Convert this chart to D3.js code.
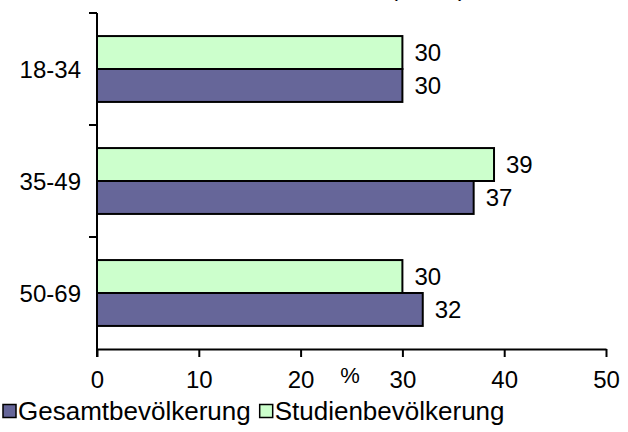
<!DOCTYPE html>
<html>
<head>
<meta charset="utf-8">
<script src="https://cdn.jsdelivr.net/npm/d3@7"></script>
<style>
  html, body { margin: 0; padding: 0; background: #fff; }
  svg { display: block; font-family: "Liberation Sans", Arial, sans-serif; }
</style>
</head>
<body>
<svg id="chart" width="628" height="432"></svg>
<script>
// Age groups and shares (%)
const categories = ["18-34", "35-49", "50-69"];
const seriesNames = ["Studienbevölkerung", "Gesamtbevölkerung"];
const studien = [30, 39, 30];
const gesamt = [30, 37, 32];
const xTicks = [0, 10, 20, 30, 40, 50];
const seriesColors = ["#CCFFCC", "#666699"];
const legendOrder = ["Gesamtbevölkerung", "Studienbevölkerung"];

const values = { "Studienbevölkerung": studien, "Gesamtbevölkerung": gesamt };

const svg = d3.select("#chart");
const fontSize = 24;
const legendFontSize = 26;

const plotLeft = 97, plotRight = 606, plotTop = 13, plotBottom = 349;

const x = d3.scaleLinear().domain([0, 50]).range([plotLeft, plotRight]);
const y = d3.scaleBand().domain(categories).range([plotTop, plotBottom]);
const ySub = d3.scaleBand().domain(seriesNames).range([0, y.bandwidth()])
  .paddingInner(0).paddingOuter(0.7);
const color = d3.scaleOrdinal().domain(seriesNames).range(seriesColors);

// Title (runs off the top edge)
svg.append("text")
  .attr("x", 466).attr("y", -4)
  .attr("text-anchor", "end")
  .attr("font-size", fontSize)
  .attr("fill", "#000")
  .text("Alter (Jahre)");

// Bars
const groups = svg.append("g").selectAll("g")
  .data(categories)
  .join("g")
  .attr("transform", d => `translate(0,${y(d)})`);

groups.selectAll("rect")
  .data((c, i) => seriesNames.map(s => ({ s, v: values[s][i] })))
  .join("rect")
  .attr("x", x(0))
  .attr("y", d => ySub(d.s))
  .attr("width", d => x(d.v) - x(0))
  .attr("height", ySub.bandwidth())
  .attr("fill", d => color(d.s))
  .attr("stroke", "#000")
  .attr("stroke-width", 2);

groups.selectAll("text.val")
  .data((c, i) => seriesNames.map(s => ({ s, v: values[s][i] })))
  .join("text")
  .attr("class", "val")
  .attr("x", d => x(d.v) + 12)
  .attr("y", d => ySub(d.s) + ySub.bandwidth() / 2)
  .attr("dy", "0.36em")
  .attr("font-size", fontSize)
  .attr("fill", "#000")
  .text(d => d.v);

// X axis
const xAxis = svg.append("g")
  .attr("transform", `translate(0,${plotBottom})`)
  .call(d3.axisBottom(x).tickValues(xTicks).tickSize(8).tickPadding(14).tickSizeOuter(0));
xAxis.select(".domain").attr("stroke", "#000").attr("stroke-width", 2);
xAxis.selectAll(".tick line").attr("stroke", "#000").attr("stroke-width", 2);
xAxis.selectAll(".tick text").attr("font-size", fontSize).attr("font-family", null).attr("fill", "#000");

// Y axis: ticks at band boundaries, labels at band centres
const yAxisG = svg.append("g");
yAxisG.append("line")
  .attr("x1", plotLeft).attr("x2", plotLeft)
  .attr("y1", plotTop).attr("y2", plotBottom + 8)
  .attr("stroke", "#000").attr("stroke-width", 2);
const boundaries = categories.map(c => y(c));
yAxisG.selectAll("line.tick")
  .data(boundaries)
  .join("line")
  .attr("class", "tick")
  .attr("x1", plotLeft - 8).attr("x2", plotLeft)
  .attr("y1", d => d).attr("y2", d => d)
  .attr("stroke", "#000").attr("stroke-width", 2);
yAxisG.selectAll("text")
  .data(categories)
  .join("text")
  .attr("x", 81)
  .attr("y", d => y(d) + y.bandwidth() / 2)
  .attr("dy", "0.36em")
  .attr("text-anchor", "end")
  .attr("font-size", fontSize)
  .attr("fill", "#000")
  .text(d => d);

// Axis unit
svg.append("text")
  .attr("x", 350).attr("y", 383)
  .attr("text-anchor", "middle")
  .attr("font-size", 22)
  .attr("fill", "#000")
  .text("%");

// Legend
const legend = svg.append("g").attr("transform", "translate(2,404)");
let lx = 0;
legendOrder.forEach(name => {
  const g = legend.append("g").attr("transform", `translate(${lx},0)`);
  g.append("rect")
    .attr("x", 1).attr("y", 0.5)
    .attr("width", 13).attr("height", 13)
    .attr("fill", color(name))
    .attr("stroke", "#000").attr("stroke-width", 1.5);
  const t = g.append("text")
    .attr("x", 16).attr("y", 7)
    .attr("dy", "0.36em")
    .attr("font-size", legendFontSize)
    .attr("fill", "#000")
    .text(name);
  lx += 16 + t.node().getComputedTextLength() + 8;
});
</script>
</body>
</html>
